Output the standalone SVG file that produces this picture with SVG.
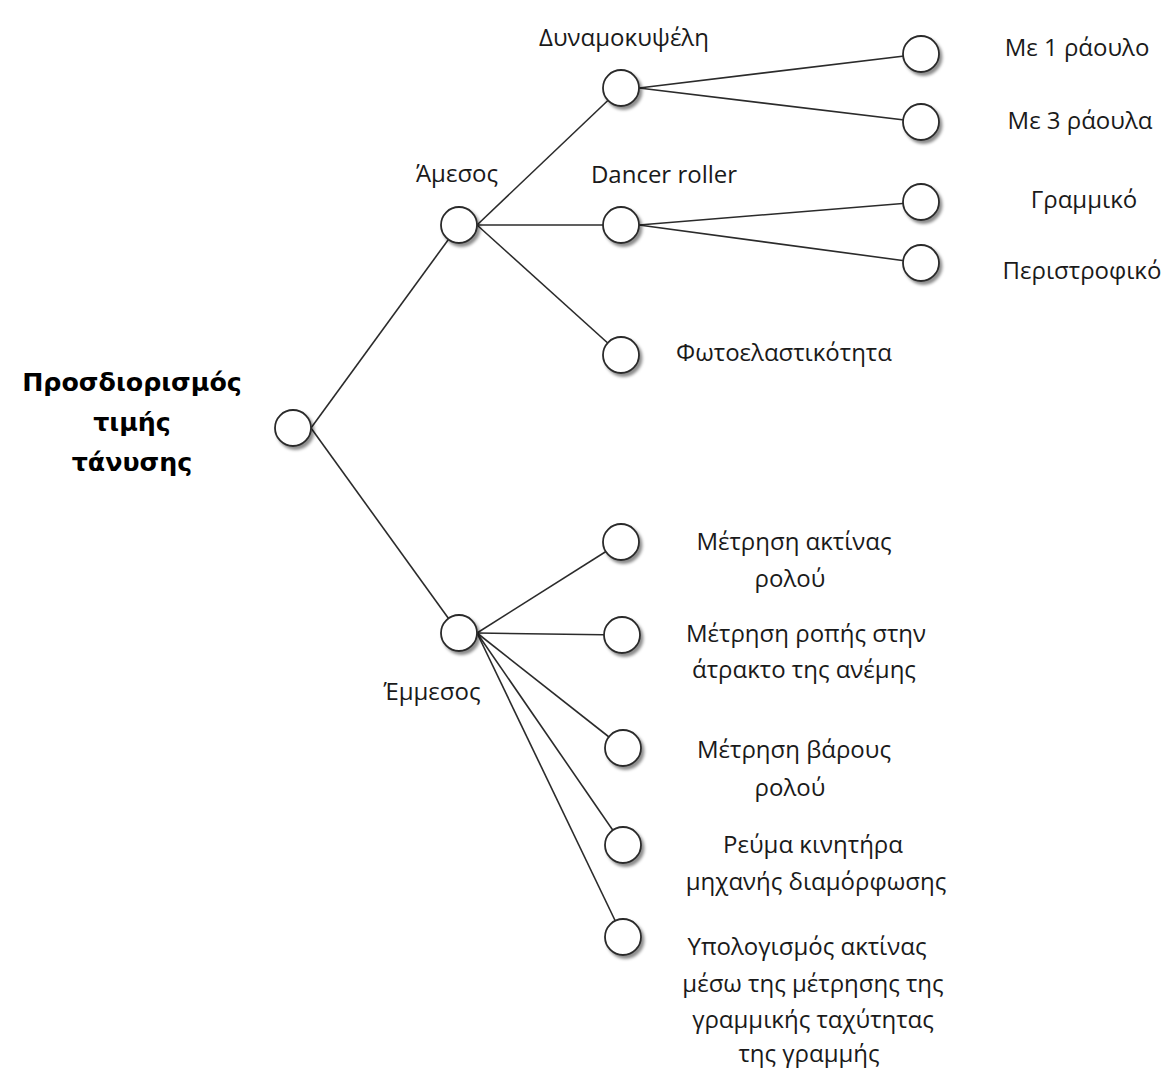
<svg xmlns="http://www.w3.org/2000/svg" width="1170" height="1071" viewBox="0 0 1170 1071">
  <defs>
    <filter id="shadow" x="-40%" y="-40%" width="190%" height="190%">
      <feDropShadow dx="2.5" dy="3" stdDeviation="1.8" flood-color="#000" flood-opacity="0.45"/>
    </filter>
  </defs>
  <style>
    .node { fill: #ffffff; stroke: #2b2b2b; stroke-width: 1.8; filter: url(#shadow); }
    .edge { stroke: #2b2b2b; stroke-width: 1.6; fill: none; }
    .lbl { font-family: "Open Sans", "Noto Sans", "DejaVu Sans", sans-serif; font-size: 24px; fill: #1a1a1a; text-anchor: middle; }
    .title { font-family: "DejaVu Sans", "Verdana", sans-serif; font-weight: bold; font-size: 25.3px; fill: #000; text-anchor: middle; }
  </style>
  <rect width="1170" height="1071" fill="#ffffff"/>

  <g id="connectors">
    <line class="edge" x1="311" y1="428" x2="459" y2="225"/>
    <line class="edge" x1="311" y1="428" x2="459" y2="633"/>
    <line class="edge" x1="477" y1="225" x2="621" y2="88"/>
    <line class="edge" x1="477" y1="225" x2="621" y2="225"/>
    <line class="edge" x1="477" y1="225" x2="621" y2="355"/>
    <line class="edge" x1="639" y1="88" x2="921" y2="54"/>
    <line class="edge" x1="639" y1="88" x2="921" y2="122"/>
    <line class="edge" x1="639" y1="225" x2="921" y2="202"/>
    <line class="edge" x1="639" y1="225" x2="921" y2="263"/>
    <line class="edge" x1="477" y1="633" x2="621" y2="542"/>
    <line class="edge" x1="477" y1="633" x2="622" y2="635"/>
    <line class="edge" x1="477" y1="633" x2="623" y2="748"/>
    <line class="edge" x1="477" y1="633" x2="623" y2="845"/>
    <line class="edge" x1="477" y1="633" x2="623" y2="937"/>
  </g>

  <g id="root">
    <circle class="node" cx="293" cy="428" r="18"/>
    <text class="title" x="132" y="391">Προσδιορισμός</text>
    <text class="title" x="132" y="431">τιμής</text>
    <text class="title" x="132" y="471">τάνυσης</text>
  </g>

  <g id="amesos">
    <circle class="node" cx="459" cy="225" r="18"/>
    <text class="lbl" x="457" y="182">Άμεσος</text>
  </g>
  <g id="dynamokypseli">
    <circle class="node" cx="621" cy="88" r="18"/>
    <text class="lbl" x="624" y="46">Δυναμοκυψέλη</text>
  </g>
  <g id="dancer-roller">
    <circle class="node" cx="621" cy="225" r="18"/>
    <text class="lbl" x="664" y="183">Dancer roller</text>
  </g>
  <g id="fotoelastikotita">
    <circle class="node" cx="621" cy="355" r="18"/>
    <text class="lbl" x="784" y="361">Φωτοελαστικότητα</text>
  </g>
  <g id="me-1-raoulo">
    <circle class="node" cx="921" cy="54" r="18"/>
    <text class="lbl" x="1077" y="56">Με 1 ράουλο</text>
  </g>
  <g id="me-3-raoula">
    <circle class="node" cx="921" cy="122" r="18"/>
    <text class="lbl" x="1080" y="129">Με 3 ράουλα</text>
  </g>
  <g id="grammiko">
    <circle class="node" cx="921" cy="202" r="18"/>
    <text class="lbl" x="1084" y="208">Γραμμικό</text>
  </g>
  <g id="peristrofiko">
    <circle class="node" cx="921" cy="263" r="18"/>
    <text class="lbl" x="1082" y="279">Περιστροφικό</text>
  </g>

  <g id="emmesos">
    <circle class="node" cx="459" cy="633" r="18"/>
    <text class="lbl" x="432" y="700">Έμμεσος</text>
  </g>
  <g id="aktina-rolou">
    <circle class="node" cx="621" cy="542" r="18"/>
    <text class="lbl" x="794" y="550">Μέτρηση ακτίνας</text>
    <text class="lbl" x="790" y="587">ρολού</text>
  </g>
  <g id="ropi-atraktou">
    <circle class="node" cx="622" cy="635" r="18"/>
    <text class="lbl" x="806" y="642">Μέτρηση ροπής στην</text>
    <text class="lbl" x="804" y="678">άτρακτο της ανέμης</text>
  </g>
  <g id="varos-rolou">
    <circle class="node" cx="623" cy="748" r="18"/>
    <text class="lbl" x="794" y="758">Μέτρηση βάρους</text>
    <text class="lbl" x="790" y="796">ρολού</text>
  </g>
  <g id="revma-kinitira">
    <circle class="node" cx="623" cy="845" r="18"/>
    <text class="lbl" x="813" y="853">Ρεύμα κινητήρα</text>
    <text class="lbl" x="816" y="890">μηχανής διαμόρφωσης</text>
  </g>
  <g id="ypologismos-aktinas">
    <circle class="node" cx="623" cy="937" r="18"/>
    <text class="lbl" x="807" y="955">Υπολογισμός ακτίνας</text>
    <text class="lbl" x="813" y="992">μέσω της μέτρησης της</text>
    <text class="lbl" x="813" y="1028">γραμμικής ταχύτητας</text>
    <text class="lbl" x="809" y="1062">της γραμμής</text>
  </g>
</svg>
